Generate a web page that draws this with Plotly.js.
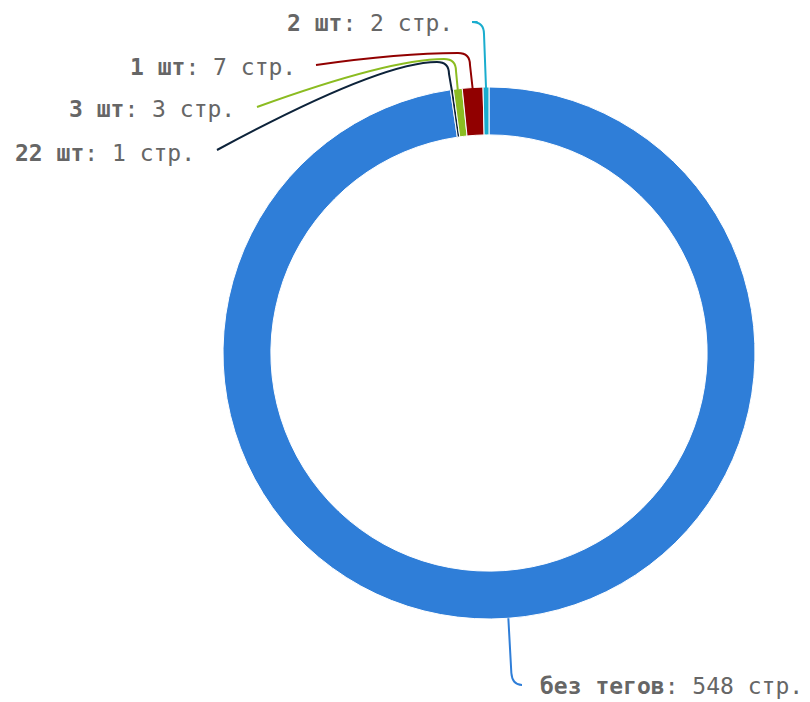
<!DOCTYPE html>
<html>
<head>
<meta charset="utf-8">
<script src="https://cdn.plot.ly/plotly-3.0.1.min.js"></script>
<style>html,body{margin:0;padding:0;background:#fff;}#chart{width:810px;height:702px;}</style>
</head>
<body>
<div id="chart"></div>
<script>
// Data
const categories = ["без тегов", "22 шт", "3 шт", "1 шт", "2 шт"];
const pages = [548, 1, 3, 7, 2];
const unit = "стр.";
const colors = ["#2f7ed8", "#0d233a", "#8bbc21", "#910000", "#1aadce"];

// Layout constants (pixels)
const W = 810, H = 702;
const CX = 489, CY = 353, R = 266, HOLE = 0.82;
// label anchor points (end of connector) and label placement
const labelLayout = [
  {lx: 522, ly: 685, side: "right", tx: 538, ty: 686},
  {lx: 217, ly: 150, side: "left", kx: 449, ky: 62, qx: 380, tx: 197, ty: 153},
  {lx: 257, ly: 107, side: "left", kx: 456, ky: 59, qx: 390, tx: 237, ty: 109},
  {lx: 316, ly: 65, side: "left", kx: 470, ky: 53, qx: 400, tx: 298, ty: 67},
  {lx: 475, ly: 22, side: "left", kx: 484, ky: 22, qx: 480, tx: 455, ty: 23}
];

const px = x => x / W;
const py = y => 1 - y / H;

const total = pages.reduce((a, b) => a + b, 0);
let cum = 0;
const shapes = [];
const annotations = [];
pages.forEach((v, i) => {
  const mid = (cum + v / 2) / total * 2 * Math.PI;
  cum += v;
  const ax = CX + R * Math.sin(mid);
  const ay = CY - R * Math.cos(mid);
  const L = labelLayout[i];
  let path;
  if (L.side === "right") {
    // bottom label: go down, then curve right
    path = `M ${px(ax)},${py(ay)} L ${px(ax + 3)},${py(L.ly - 12)} Q ${px(ax + 4)},${py(L.ly)} ${px(L.lx)},${py(L.ly)}`;
  } else {
    path = `M ${px(L.lx)},${py(L.ly)} Q ${px(L.qx)},${py(L.ky)} ${px(L.kx - 12)},${py(L.ky)} ` +
           `Q ${px(L.kx)},${py(L.ky)} ${px(L.kx)},${py(L.ky + 12)} L ${px(ax)},${py(ay + 1)}`;
  }
  shapes.push({
    type: "path", xref: "paper", yref: "paper", path: path,
    line: {color: colors[i], width: 2}
  });
  annotations.push({
    xref: "paper", yref: "paper",
    x: px(L.tx), y: py(L.ty),
    xanchor: L.side === "right" ? "left" : "right", yanchor: "middle",
    text: `<b>${categories[i]}</b>: ${v} ${unit}`,
    showarrow: false,
    font: {family: "DejaVu Sans Mono, monospace", size: 23, color: "#666666"}
  });
});

const data = [{
  type: "pie",
  labels: categories,
  values: pages,
  sort: false,
  direction: "clockwise",
  rotation: 0,
  hole: HOLE,
  textinfo: "none",
  textposition: "none",
  marker: {colors: colors, line: {color: "#ffffff", width: 1}},
  domain: {x: [(CX - R) / W, (CX + R) / W], y: [1 - (CY + R) / H, 1 - (CY - R) / H]},
  showlegend: false,
  hoverinfo: "label+value"
}];

const layout = {
  width: W, height: H,
  margin: {l: 0, r: 0, t: 0, b: 0},
  paper_bgcolor: "#ffffff",
  showlegend: false,
  shapes: shapes,
  annotations: annotations
};

Plotly.newPlot("chart", data, layout, {displayModeBar: false, staticPlot: true});
</script>
</body>
</html>
